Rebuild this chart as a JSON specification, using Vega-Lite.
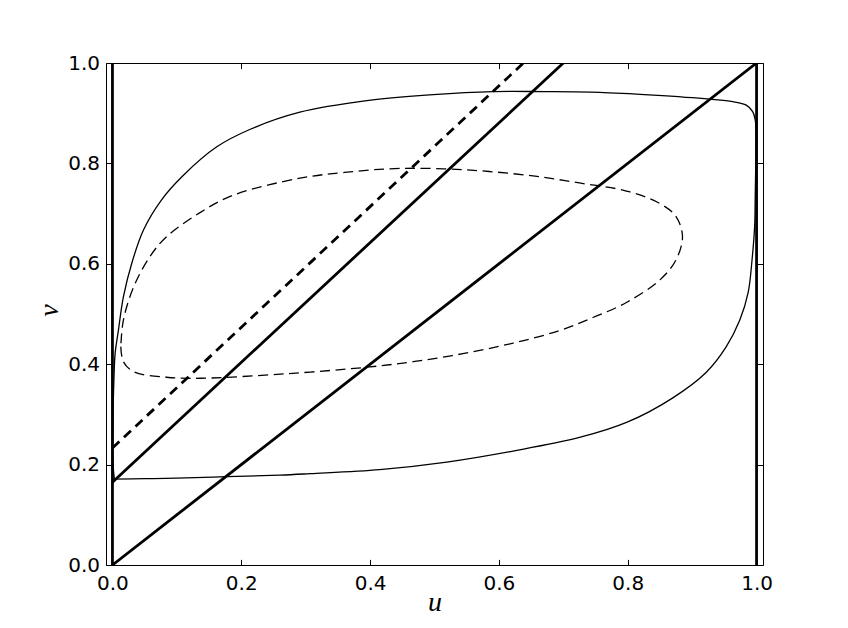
{
  "$schema": "https://vega.github.io/schema/vega-lite/v6.json",
  "width": 657,
  "height": 502,
  "autosize": {"type": "none"},
  "padding": {"left": 106, "top": 63, "right": 85, "bottom": 63},
  "background": "white",
  "config": {
    "view": {"stroke": "black", "strokeWidth": 1},
    "axis": {
      "grid": false,
      "domain": false,
      "tickColor": "black",
      "tickWidth": 1,
      "tickSize": -5.6,
      "labelFont": "DejaVu Sans",
      "labelFontSize": 20,
      "labelColor": "black",
      "titleFont": "Liberation Serif",
      "titleFontStyle": "italic",
      "titleFontWeight": "normal",
      "titleFontSize": 28,
      "titleColor": "black"
    }
  },
  "datasets": {
    "outer": [
      {"i": 0, "u": 0.003, "v": 0.171},
      {"i": 1, "u": 0.05, "v": 0.172},
      {"i": 2, "u": 0.1, "v": 0.173},
      {"i": 3, "u": 0.177, "v": 0.176},
      {"i": 4, "u": 0.26, "v": 0.179},
      {"i": 5, "u": 0.307, "v": 0.182},
      {"i": 6, "u": 0.415, "v": 0.19},
      {"i": 7, "u": 0.519, "v": 0.205},
      {"i": 8, "u": 0.622, "v": 0.227},
      {"i": 9, "u": 0.725, "v": 0.254},
      {"i": 10, "u": 0.8, "v": 0.285},
      {"i": 11, "u": 0.87, "v": 0.333},
      {"i": 12, "u": 0.922, "v": 0.384},
      {"i": 13, "u": 0.953, "v": 0.435},
      {"i": 14, "u": 0.974, "v": 0.488},
      {"i": 15, "u": 0.987, "v": 0.543},
      {"i": 16, "u": 0.993, "v": 0.608},
      {"i": 17, "u": 0.997, "v": 0.674},
      {"i": 18, "u": 0.998, "v": 0.741},
      {"i": 19, "u": 0.999, "v": 0.82},
      {"i": 20, "u": 0.999, "v": 0.86},
      {"i": 21, "u": 0.998, "v": 0.886},
      {"i": 22, "u": 0.994, "v": 0.903},
      {"i": 23, "u": 0.984, "v": 0.916},
      {"i": 24, "u": 0.963, "v": 0.923},
      {"i": 25, "u": 0.927, "v": 0.928},
      {"i": 26, "u": 0.84, "v": 0.936},
      {"i": 27, "u": 0.756, "v": 0.9416},
      {"i": 28, "u": 0.67, "v": 0.943},
      {"i": 29, "u": 0.591, "v": 0.943},
      {"i": 30, "u": 0.498, "v": 0.937},
      {"i": 31, "u": 0.395, "v": 0.925},
      {"i": 32, "u": 0.291, "v": 0.902},
      {"i": 33, "u": 0.214, "v": 0.868},
      {"i": 34, "u": 0.162, "v": 0.833},
      {"i": 35, "u": 0.109, "v": 0.775},
      {"i": 36, "u": 0.076, "v": 0.727},
      {"i": 37, "u": 0.048, "v": 0.667},
      {"i": 38, "u": 0.03, "v": 0.601},
      {"i": 39, "u": 0.017, "v": 0.534},
      {"i": 40, "u": 0.0093, "v": 0.468},
      {"i": 41, "u": 0.0042, "v": 0.422},
      {"i": 42, "u": 0.0026, "v": 0.382},
      {"i": 43, "u": 0.001, "v": 0.3},
      {"i": 44, "u": 0.001, "v": 0.2},
      {"i": 45, "u": 0.003, "v": 0.171}
    ],
    "inner": [
      {"i": 0, "u": 0.013, "v": 0.435},
      {"i": 1, "u": 0.017, "v": 0.405},
      {"i": 2, "u": 0.033, "v": 0.385},
      {"i": 3, "u": 0.084, "v": 0.374},
      {"i": 4, "u": 0.136, "v": 0.372},
      {"i": 5, "u": 0.27, "v": 0.381},
      {"i": 6, "u": 0.395, "v": 0.394},
      {"i": 7, "u": 0.467, "v": 0.405},
      {"i": 8, "u": 0.544, "v": 0.421},
      {"i": 9, "u": 0.622, "v": 0.442},
      {"i": 10, "u": 0.694, "v": 0.467},
      {"i": 11, "u": 0.746, "v": 0.493},
      {"i": 12, "u": 0.798, "v": 0.523},
      {"i": 13, "u": 0.85, "v": 0.568},
      {"i": 14, "u": 0.875, "v": 0.608},
      {"i": 15, "u": 0.885, "v": 0.654},
      {"i": 16, "u": 0.875, "v": 0.694},
      {"i": 17, "u": 0.85, "v": 0.72},
      {"i": 18, "u": 0.798, "v": 0.745},
      {"i": 19, "u": 0.725, "v": 0.761},
      {"i": 20, "u": 0.653, "v": 0.775},
      {"i": 21, "u": 0.55, "v": 0.787},
      {"i": 22, "u": 0.446, "v": 0.79},
      {"i": 23, "u": 0.36, "v": 0.782},
      {"i": 24, "u": 0.289, "v": 0.77},
      {"i": 25, "u": 0.186, "v": 0.736},
      {"i": 26, "u": 0.136, "v": 0.702},
      {"i": 27, "u": 0.084, "v": 0.654},
      {"i": 28, "u": 0.058, "v": 0.614},
      {"i": 29, "u": 0.033, "v": 0.554},
      {"i": 30, "u": 0.017, "v": 0.488},
      {"i": 31, "u": 0.013, "v": 0.435}
    ],
    "thick": [
      {"s": "left", "i": 0, "u": 0, "v": 0},
      {"s": "left", "i": 1, "u": 0, "v": 1},
      {"s": "right", "i": 0, "u": 1, "v": 0},
      {"s": "right", "i": 1, "u": 1, "v": 1},
      {"s": "diag", "i": 0, "u": 0, "v": 0},
      {"s": "diag", "i": 1, "u": 1, "v": 1},
      {"s": "shift", "i": 0, "u": 0, "v": 0.165},
      {"s": "shift", "i": 1, "u": 0.7, "v": 1}
    ],
    "thickdash": [
      {"s": "dash", "i": 0, "u": 0, "v": 0.233},
      {"s": "dash", "i": 1, "u": 0.638, "v": 1}
    ]
  },
  "resolve": {"axis": {"x": "independent", "y": "independent"}},
  "layer": [
    {
      "data": {"name": "outer"},
      "mark": {"type": "line", "color": "black", "strokeWidth": 1.3, "interpolate": "catmull-rom", "clip": true},
      "encoding": {
        "x": {"field": "u", "type": "quantitative",
              "scale": {"domain": [-0.01, 1.01], "nice": false, "zero": false},
              "axis": {"orient": "bottom", "values": [0, 0.2, 0.4, 0.6, 0.8, 1.0], "format": ".1f",
                       "labelPadding": 14, "title": "u", "titleY": 45.5, "titleBaseline": "alphabetic"}},
        "y": {"field": "v", "type": "quantitative",
              "scale": {"domain": [0, 1], "nice": false, "zero": false},
              "axis": {"orient": "left", "values": [0, 0.2, 0.4, 0.6, 0.8, 1.0], "format": ".1f",
                       "labelPadding": 12, "title": "v", "titleX": -49, "titleY": 247,
                       "titleAngle": 270, "titleAlign": "center", "titleBaseline": "alphabetic"}},
        "order": {"field": "i", "type": "quantitative"}
      }
    },
    {
      "data": {"name": "inner"},
      "mark": {"type": "line", "color": "black", "strokeWidth": 1.3, "strokeDash": [10, 5.5], "interpolate": "catmull-rom", "clip": true},
      "encoding": {
        "x": {"field": "u", "type": "quantitative",
              "axis": {"orient": "top", "values": [0, 0.2, 0.4, 0.6, 0.8, 1.0], "labels": false, "title": null}},
        "y": {"field": "v", "type": "quantitative",
              "axis": {"orient": "right", "values": [0, 0.2, 0.4, 0.6, 0.8, 1.0], "labels": false, "title": null}},
        "order": {"field": "i", "type": "quantitative"}
      }
    },
    {
      "data": {"name": "thick"},
      "mark": {"type": "line", "color": "black", "strokeWidth": 2.8, "clip": true},
      "encoding": {
        "x": {"field": "u", "type": "quantitative", "axis": null},
        "y": {"field": "v", "type": "quantitative", "axis": null},
        "detail": {"field": "s"},
        "order": {"field": "i", "type": "quantitative"}
      }
    },
    {
      "data": {"name": "thickdash"},
      "mark": {"type": "line", "color": "black", "strokeWidth": 2.8, "strokeDash": [9.5, 6.3], "clip": true},
      "encoding": {
        "x": {"field": "u", "type": "quantitative", "axis": null},
        "y": {"field": "v", "type": "quantitative", "axis": null},
        "detail": {"field": "s"},
        "order": {"field": "i", "type": "quantitative"}
      }
    }
  ]
}
